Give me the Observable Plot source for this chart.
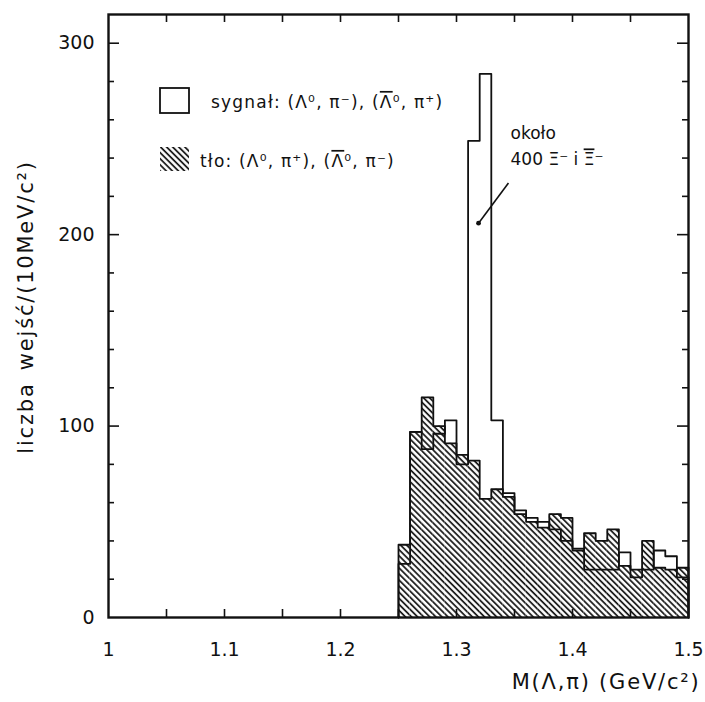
<!DOCTYPE html>
<html>
<head>
<meta charset="utf-8">
<script src="https://cdn.jsdelivr.net/npm/d3@7"></script>
<script src="https://cdn.jsdelivr.net/npm/@observablehq/plot@0.6"></script>
<style>
  html, body { margin: 0; padding: 0; background: #fff; }
  #chart { width: 705px; height: 702px; }
</style>
</head>
<body>
<div id="chart"></div>
<script>
// ---- data ----
const binStarts = [1.25, 1.26, 1.27, 1.28, 1.29, 1.30, 1.31, 1.32, 1.33, 1.34,
                   1.35, 1.36, 1.37, 1.38, 1.39, 1.40, 1.41, 1.42, 1.43, 1.44,
                   1.45, 1.46, 1.47, 1.48, 1.49];
const binWidth = 0.01;
// sygnał: (Λ⁰,π⁻),(Λ̄⁰,π⁺)  — open histogram
const signal = [28, 97, 88, 96, 103, 80, 249, 284, 103, 65,
                56, 52, 50, 46, 40, 36, 25, 25, 25, 34,
                21, 25, 35, 32, 21];
// tło: (Λ⁰,π⁺),(Λ̄⁰,π⁻) — hatched histogram
const background = [38, 97, 115, 100, 91, 85, 82, 62, 67, 63,
                    54, 50, 47, 54, 52, 35, 44, 40, 46, 27,
                    25, 40, 26, 25, 26];

const xTickValues = [1, 1.1, 1.2, 1.3, 1.4, 1.5];
const xTickLabels = ["1", "1.1", "1.2", "1.3", "1.4", "1.5"];
const xMinorTicks = [1.05, 1.1, 1.15, 1.2, 1.25, 1.3, 1.35, 1.4, 1.45];
const yTickValues = [0, 100, 200, 300];
const yMinorTicks = [20, 40, 60, 80, 120, 140, 160, 180, 220, 240, 260, 280];
const yMajorTicks = [100, 200, 300];

const xLabel = "M(Λ,π) (GeV/c²)";
const yLabel = "liczba\u2002wejść/(10MeV/c²)";
const legendLabels = ["sygnał: (Λ⁰, π⁻), (Λ\u0304⁰, π⁺)", "tło: (Λ⁰, π⁺), (Λ\u0304⁰, π⁻)"];
const noteLines = ["około", "400 Ξ⁻ i Ξ\u0304⁻"];
const noteAnchor = [{x: 1.3466, y: 253}, {x: 1.3466, y: 239}];
const arrowSeg = [{x1: 1.3448, y1: 227, x2: 1.3190, y2: 206}];

// ---- derived tables ----
const bins = binStarts.map((x, i) => ({x1: x, x2: +(x + binWidth).toFixed(3), sig: signal[i], bg: background[i]}));
function outline(values) {
  const pts = [{x: binStarts[0], y: 0}];
  binStarts.forEach((x, i) => pts.push({x, y: values[i]}));
  const end = +(binStarts[binStarts.length - 1] + binWidth).toFixed(3);
  pts.push({x: end, y: values[values.length - 1]});
  pts.push({x: end, y: 0});
  return pts;
}
const notes = noteLines.map((t, i) => ({text: t, ...noteAnchor[i]}));

const W = 705, H = 702;
const mL = 108, mR = 17, mT = 14, mB = 85;
const innerW = W - mL - mR, innerH = H - mT - mB;

const svg = Plot.plot({
  width: W, height: H,
  marginLeft: mL, marginRight: mR, marginTop: mT, marginBottom: mB,
  x: {domain: [1, 1.5], axis: null},
  y: {domain: [0, 315], axis: null},
  style: {fontFamily: "'DejaVu Sans', sans-serif", background: "#fff", color: "#000", overflow: "visible"},
  marks: [
    Plot.rect(bins, {x1: "x1", x2: "x2", y1: 0, y2: "bg", fill: "url(#hatchPat)"}),
    Plot.line(outline(background), {x: "x", y: "y", curve: "step-after", stroke: "#111", strokeWidth: 1.8}),
    Plot.line(outline(signal), {x: "x", y: "y", curve: "step-after", stroke: "#111", strokeWidth: 1.8}),
    // ticks (inward)
    Plot.tickX(xMinorTicks, {x: d => d, stroke: "#111", strokeWidth: 1.6, insetTop: innerH - 8}),
    Plot.tickX(xMinorTicks, {x: d => d, stroke: "#111", strokeWidth: 1.6, insetBottom: innerH - 8}),
    Plot.tickY(yMinorTicks, {y: d => d, stroke: "#111", strokeWidth: 1.6, insetRight: innerW - 6}),
    Plot.tickY(yMinorTicks, {y: d => d, stroke: "#111", strokeWidth: 1.6, insetLeft: innerW - 6}),
    Plot.tickY(yMajorTicks, {y: d => d, stroke: "#111", strokeWidth: 1.6, insetRight: innerW - 11}),
    Plot.tickY(yMajorTicks, {y: d => d, stroke: "#111", strokeWidth: 1.6, insetLeft: innerW - 11}),
    Plot.frame({stroke: "#111", strokeWidth: 2.4}),
    // tick labels
    Plot.text(xTickValues, {x: d => d, frameAnchor: "bottom", dy: 38, text: (d, i) => xTickLabels[i], fontSize: 19, fill: "#111"}),
    Plot.text(yTickValues, {y: d => d, frameAnchor: "left", dx: -14, textAnchor: "end", text: d => String(d), fontSize: 19, fill: "#111"}),
    // axis titles
    Plot.text([xLabel], {frameAnchor: "bottom-right", textAnchor: "end", dx: 12, dy: 71, text: d => d, fontSize: 21, fill: "#111"}),
    Plot.text([yLabel], {frameAnchor: "left", textAnchor: "middle", rotate: -90, dx: -82, dy: -9, text: d => d, fontSize: 21, fill: "#111"}),
    // annotation
    Plot.text(notes, {x: "x", y: "y", text: "text", textAnchor: "start", fontSize: 17, fill: "#111"}),
    Plot.link(arrowSeg, {x1: "x1", y1: "y1", x2: "x2", y2: "y2", stroke: "#111", strokeWidth: 1.6}),
    Plot.dot(arrowSeg, {x: "x2", y: "y2", r: 2.4, fill: "#111"})
  ]
});

const root = d3.select(svg);
root.insert("defs", ":first-child").html(
  `<pattern id="hatchPat" patternUnits="userSpaceOnUse" width="4.3" height="4.3" patternTransform="rotate(-45)">
     <rect width="4.3" height="4.3" fill="#fff"/>
     <line x1="1" y1="0" x2="1" y2="4.3" stroke="#111" stroke-width="1.7"/>
   </pattern>`
);
root.selectAll("text")
  .filter(function() { return this.textContent === xLabel || this.textContent === yLabel; })
  .attr("letter-spacing", "1.8px");

// render "X\u0304" (anti-particle bar) as an overlined tspan so the bar is visible
function setBarredText(node, str) {
  while (node.firstChild) node.removeChild(node.firstChild);
  const parts = str.split(/(.\u0304)/u).filter(p => p.length);
  for (const p of parts) {
    const t = document.createElementNS("http://www.w3.org/2000/svg", "tspan");
    if (p.length === 2 && p[1] === "\u0304") {
      t.textContent = p[0];
      t.setAttribute("text-decoration", "overline");
      t.style.textDecoration = "overline";
    } else {
      t.textContent = p;
    }
    node.appendChild(t);
  }
}
root.selectAll("text")
  .filter(function() { return this.textContent === noteLines[1]; })
  .each(function() { setBarredText(this, noteLines[1]); });

// legend (inside the frame, top-left)
const leg = root.append("g").attr("font-family", "'DejaVu Sans', sans-serif").attr("font-size", 17)
  .attr("fill", "#111").attr("text-anchor", "start");
leg.append("rect").attr("x", 160).attr("y", 88).attr("width", 29).attr("height", 25)
  .attr("fill", "none").attr("stroke", "#111").attr("stroke-width", 1.8);
leg.append("rect").attr("x", 160).attr("y", 147).attr("width", 29).attr("height", 24)
  .attr("fill", "url(#hatchPat)").attr("stroke", "none");
leg.append("text").attr("x", 211).attr("y", 102).attr("dy", "0.35em").attr("letter-spacing", "1.2px")
  .each(function() { setBarredText(this, legendLabels[0]); });
leg.append("text").attr("x", 200).attr("y", 161).attr("dy", "0.35em").attr("letter-spacing", "1.2px")
  .each(function() { setBarredText(this, legendLabels[1]); });

document.getElementById("chart").appendChild(svg);
</script>
</body>
</html>
